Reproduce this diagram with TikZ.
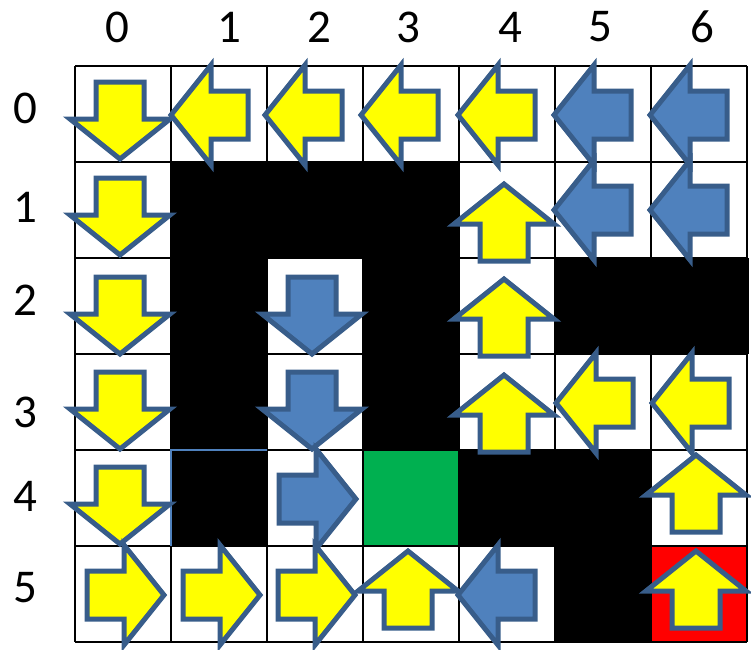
\documentclass[tikz,border=0pt]{standalone}
\usepackage{fontspec}
\setmainfont{Carlito}
\usetikzlibrary{positioning}
\definecolor{arrYellow}{HTML}{FFFF00}
\definecolor{arrBlue}{HTML}{4F81BD}
\definecolor{arrEdge}{HTML}{385D8A}
\definecolor{goalGreen}{HTML}{00B050}
\definecolor{startRed}{HTML}{FF0000}
\tikzset{
  gridline/.style={draw=black, line width=2pt},
  wall/.style={fill=black},
  goal/.style={fill=goalGreen},
  start/.style={fill=startRed},
  walledge/.style={draw=arrBlue, line width=2.5pt},
  idx/.style={font=\fontsize{47}{50}\selectfont, inner sep=0pt},
  yarr/.style={fill=arrYellow},
  barr/.style={fill=arrBlue},
  mvarrow/.pic={
    \filldraw[draw=arrEdge, line width=5pt, miter limit=10, #1]
      (0,0) -- (-40,50) -- (-40,24) -- (-77,24) -- (-77,-24)
      -- (-40,-24) -- (-40,-50) -- cycle;
  }
}

\begin{document}
\begin{tikzpicture}[x=1pt, y=-1pt]
  \useasboundingbox (0,0) rectangle (751,649);
  % column and row indices
  \node[idx] (c0) at (117,27) {0};
  \node[idx] (c1) at (229,27) {1};
  \node[idx] (c2) at (319,27) {2};
  \node[idx] (c3) at (408,27) {3};
  \node[idx] (c4) at (510,27) {4};
  \node[idx] (c5) at (600,27) {5};
  \node[idx] (c6) at (702,27) {6};
  \node[idx] (r0) at (25,108) {0};
  \node[idx] (r1) at (25,207) {1};
  \node[idx] (r2) at (25,300) {2};
  \node[idx] (r3) at (25,412) {3};
  \node[idx] (r4) at (25,496) {4};
  \node[idx] (r5) at (25,588) {5};
  % cells
  \fill[wall] (171,162) rectangle (459,258);
  \fill[wall] (171,258) rectangle (267,546);
  \fill[wall] (363,258) rectangle (459,450);
  \fill[wall] (555,258) rectangle (749,354);
  \fill[wall] (459,450) rectangle (651,546);
  \fill[wall] (555,546) rectangle (651,642);
  \fill[goal] (363,450) rectangle (459,546);
  \fill[start] (651,546) rectangle (747,642);
  % grid
  \foreach \x in {75,171,267,363,459,555,651,747}
    \draw[gridline] (\x,66) -- (\x,642);
  \foreach \y in {66,162,258,354,450,546,642}
    \draw[gridline] (75,\y) -- (747,\y);
  \draw[walledge] (171,546) -- (171,450) -- (267,450);
  % row 0
  \pic[rotate=-90] at (120,159) {mvarrow=yarr};
  \pic[rotate=180] at (171,115) {mvarrow=yarr};
  \pic[rotate=180] at (265,115) {mvarrow=yarr};
  \pic[rotate=180] at (361,115) {mvarrow=yarr};
  \pic[rotate=180] at (458,115) {mvarrow=yarr};
  \pic[rotate=180] at (554,115) {mvarrow=barr};
  \pic[rotate=180] at (650,115) {mvarrow=barr};
  % row 1
  \pic[rotate=-90] at (120,255) {mvarrow=yarr};
  \pic[rotate=90] at (504,184) {mvarrow=yarr};
  \pic[rotate=180] at (554,210) {mvarrow=barr};
  \pic[rotate=180] at (650,210) {mvarrow=barr};
  % row 2
  \pic[rotate=-90] at (120,354) {mvarrow=yarr};
  \pic[rotate=-90] at (312,354) {mvarrow=barr};
  \pic[rotate=90] at (504,279) {mvarrow=yarr};
  % row 3
  \pic[rotate=-90] at (120,449) {mvarrow=yarr};
  \pic[rotate=-90] at (312,449) {mvarrow=barr};
  \pic[rotate=90] at (504,375) {mvarrow=yarr};
  \pic[rotate=180] at (556,403) {mvarrow=yarr};
  \pic[rotate=180] at (652,403) {mvarrow=yarr};
  % row 4
  \pic[rotate=-90] at (120,544) {mvarrow=yarr};
  \pic at (356,499) {mvarrow=barr};
  \pic[rotate=90] at (696,455) {mvarrow=yarr};
  % row 5
  \pic at (164,595) {mvarrow=yarr};
  \pic at (260,595) {mvarrow=yarr};
  \pic at (355,595) {mvarrow=yarr};
  \pic[rotate=90] at (408,551) {mvarrow=yarr};
  \pic[rotate=180] at (458,595) {mvarrow=barr};
  \pic[rotate=90] at (696,551) {mvarrow=yarr};
\end{tikzpicture}
\end{document}
